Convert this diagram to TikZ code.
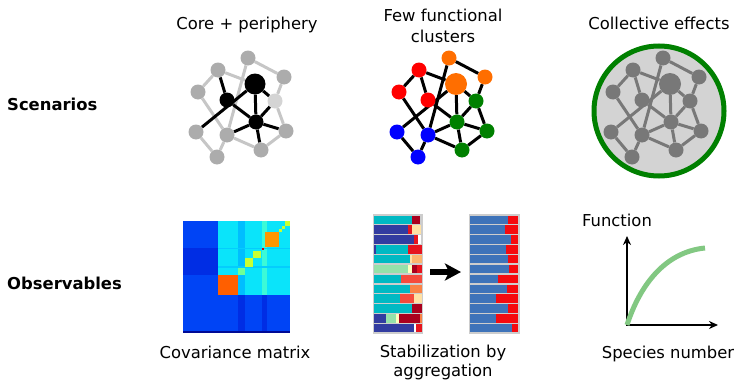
\documentclass[tikz,border=0pt]{standalone}
\usepackage{fontspec}
\setmainfont{DejaVu Sans}
\usetikzlibrary{arrows.meta,backgrounds}

\definecolor{periph}{RGB}{172,172,172}
\definecolor{fringe}{RGB}{212,212,212}
\definecolor{lightedge}{RGB}{198,198,198}
\definecolor{clorange}{RGB}{255,110,0}
\definecolor{clred}{RGB}{255,0,0}
\definecolor{clgreen}{RGB}{0,128,0}
\definecolor{clblue}{RGB}{0,0,255}
\definecolor{collgray}{RGB}{120,120,120}
\definecolor{collfill}{RGB}{211,211,211}
\definecolor{mblue}{RGB}{0,68,245}
\definecolor{mdeep}{RGB}{0,45,228}
\definecolor{mnavy}{RGB}{0,10,150}
\definecolor{mcyan}{RGB}{10,228,250}
\definecolor{mpale}{RGB}{0,190,255}
\definecolor{maqua}{RGB}{60,250,215}
\definecolor{mlime}{RGB}{200,255,50}
\definecolor{mmint}{RGB}{110,255,150}
\definecolor{mred}{RGB}{220,0,0}
\definecolor{morange}{RGB}{255,95,0}
\definecolor{mamber}{RGB}{255,150,0}
\definecolor{barframe}{RGB}{205,205,205}
\definecolor{barteal}{RGB}{0,185,195}
\definecolor{barnavy}{RGB}{50,60,160}
\definecolor{bardred}{RGB}{170,0,30}
\definecolor{barred}{RGB}{230,20,30}
\definecolor{barpeach}{RGB}{255,225,165}
\definecolor{barorange}{RGB}{253,180,110}
\definecolor{barmint}{RGB}{150,225,170}
\definecolor{barcream}{RGB}{255,255,190}
\definecolor{bartomato}{RGB}{245,75,60}
\definecolor{barsalmon}{RGB}{250,130,70}
\definecolor{barsteel}{RGB}{62,115,185}
\definecolor{barflame}{RGB}{245,10,15}
\definecolor{curvegreen}{RGB}{130,200,130}

\begin{document}
\begin{tikzpicture}[x=1pt,y=-1pt]
	\tikzset{every node/.style={font=\fontsize{16.4}{20}\selectfont}}
	\tikzset{caption/.style={inner sep=0pt,anchor=base,align=center}}
	\tikzset{rowtitle/.style={inner sep=0pt,anchor=base west,font=\fontsize{16.4}{20}\selectfont\bfseries}}
	\tikzset{dot/.style={circle,inner sep=0pt,minimum size=15pt}}
	\tikzset{link/.style={line width=3pt}}
	\tikzset{axis/.style={line width=2pt,{Stealth[length=9pt,width=8pt]}-{Stealth[length=9pt,width=8pt]}}}
	\tikzset{bigarrow/.style={line width=6pt,-{Stealth[length=16pt,width=17pt,inset=4pt]}}}

	\useasboundingbox (0,0) rectangle (737,380);

	\node[rowtitle] (scen) at (7,110) {Scenarios};
	\node[rowtitle] (obs) at (7,289) {Observables};

	\node[caption] (coretitle) at (247,29) {Core + periphery};
	\node[caption] (clustitle) at (443,42) {Few functional\\[1pt]clusters};
	\node[caption] (colltitle) at (659,29) {Collective effects};

	% core + periphery
	\begin{scope}[xshift=-201pt]
	\foreach \n/\x/\y/\d/\c in {A/449/58/15/periph,B/419/70/15/periph,C/485/77/15/periph,
		D/399/92/15/periph,E/456/84/21/black,F/428/100/15/black,G/476/101/15/fringe,
		H/457/122/15/black,I/397/132/15/periph,J/428/135/15/periph,K/487/131/15/periph,
		L/462/150/15/periph,M/418/157/15/periph}
		\node[dot,minimum size=\d pt,fill=\c] (p\n) at (\x,\y) {};
	\end{scope}
	\begin{scope}[on background layer]
	\foreach \a/\b in {A/C,A/J,B/D,B/E,D/J,C/G,G/K,J/L,K/L,I/M,J/M}
		\draw[link,lightedge] (p\a) -- (p\b);
	\foreach \a/\b in {B/F,I/E,F/H,E/H,E/G,G/H,H/J,H/K,H/L}
		\draw[link,black] (p\a) -- (p\b);
	\end{scope}

	% few functional clusters
	\foreach \n/\x/\y/\d/\c in {A/449/58/15/clorange,B/419/70/15/clred,C/485/77/15/clorange,
		D/399/92/15/clred,E/456/84/22/clorange,F/428/100/15/clred,G/476/101/15/clgreen,
		H/457/122/15/clgreen,I/397/132/15/clblue,J/428/135/15/clblue,K/487/131/15/clgreen,
		L/462/150/15/clgreen,M/418/157/15/clblue}
		\node[dot,minimum size=\d pt,fill=\c] (f\n) at (\x,\y) {};
	\begin{scope}[on background layer]
	\foreach \a/\b in {A/C,A/J,B/D,B/F,B/E,D/J,I/E,F/H,E/H,E/G,C/G,G/H,G/K,H/J,H/K,H/L,J/L,K/L,I/M,J/M}
		\draw[link,black] (f\a) -- (f\b);
	\end{scope}

	% collective effects
	\begin{scope}[xshift=214pt]
	\foreach \n/\x/\y/\d in {A/449/58/15,B/419/70/15,C/485/77/15,D/399/92/15,E/456/84/22,
		F/428/100/15,G/476/101/15,H/457/122/15,I/397/132/15,J/428/135/15,K/487/131/15,
		L/462/150/15,M/418/157/15}
		\node[dot,minimum size=\d pt,fill=collgray] (c\n) at (\x,\y) {};
	\end{scope}
	\begin{scope}[on background layer]
	\node[circle,draw=clgreen,fill=collfill,line width=5pt,minimum size=130pt] (pool) at (659,111) {};
	\foreach \a/\b in {A/C,A/J,B/D,B/F,B/E,D/J,I/E,F/H,E/H,E/G,C/G,G/H,G/K,H/J,H/K,H/L,J/L,K/L,I/M,J/M}
		\draw[link,collgray] (c\a) -- (c\b);
	\end{scope}

	% covariance matrix
	\fill[mblue] (183,221) rectangle (290,333);
	\fill[mdeep] (183,248) rectangle (218,275);
	\fill[mcyan] (218,221) rectangle (290,295);
	\fill[mpale] (238,221) rectangle (245,295);
	\fill[maqua] (262,221) rectangle (267,295);
	\fill[mpale!60!mcyan] (218,247.5) rectangle (290,249);
	\fill[mpale!60!mcyan] (218,266) rectangle (290,268);
	\fill[mdeep] (238,295) rectangle (245,331);
	\fill[mdeep] (262,295) rectangle (267,331);
	\fill[morange] (218.3,275) rectangle (238.3,295);
	\fill[mmint] (238.3,268.3) rectangle (245,275);
	\fill[mlime] (245,258.3) rectangle (253.3,266.7);
	\fill[mlime] (253.3,251) rectangle (260.7,257.7);
	\fill[mred] (261.7,247.7) rectangle (264.3,250.3);
	\fill[mamber] (265,231.7) rectangle (279.3,246.7);
	\fill[mlime] (279.3,229) rectangle (282,231.7);
	\fill[mlime] (282,226) rectangle (285,229);
	\fill[mlime] (285,221) rectangle (290,226);
	\fill[mnavy] (183,331) rectangle (290,333.3);
	\node[caption] (covlabel) at (235,358) {Covariance matrix};

	% stabilization by aggregation
	\fill[barframe] (373,214) rectangle (423,334);
	\foreach \i/\segs in {0/{barteal/411.7,bardred/420},
		1/{barnavy/408.3,barred/411.7,barpeach/421},
		2/{barnavy/414.3,barred/417.7,white/421},
		3/{barnavy/375.7,barteal/408.3,barred/422.3},
		4/{barteal/410,barpeach/411.7,barorange/422.3},
		5/{barmint/408.3,barcream/411.7,bardred/416.7,barred/422.3},
		6/{barteal/401,bartomato/422.3},
		7/{barteal/410,barsalmon/422.3},
		8/{barteal/400,bartomato/414.3,barpeach/422.3},
		9/{barteal/411.7,bardred/422.3},
		10/{barnavy/385.7,barmint/395.7,barcream/399,bardred/420,barsalmon/422.3},
		11/{barnavy/414.3,white/415.7,barred/422.3}}
		\foreach \c/\e [remember=\e as \s (initially 374)] in \segs
			\fill[\c] (\s,{215.6+\i*9.86}) rectangle (\e,{215.6+\i*9.86+8.4});
	\fill[barframe] (469,214) rectangle (520,334);
	\foreach \i/\w in {0/508.3,1/505,2/510.7,3/505.7,4/508.3,5/509,6/497.7,7/506.7,
		8/496,9/508.3,10/495.7,11/512.3} {
		\fill[barsteel] (470,{215.6+\i*9.86}) rectangle (\w,{215.6+\i*9.86+8.4});
		\fill[barflame] (\w,{215.6+\i*9.86}) rectangle (517.7,{215.6+\i*9.86+8.4});
	}
	\coordinate (mixed) at (430,272);
	\coordinate (sorted) at (461,272);
	\draw[bigarrow] (mixed) -- (sorted);
	\node[caption] (stablabel) at (443,376) {Stabilization by\\[-1pt]aggregation};

	% function vs species number
	\coordinate (origin) at (627,325);
	\coordinate (yend) at (627,236);
	\coordinate (xend) at (718,325);
	\draw[axis] (yend) -- (origin) -- (xend);
	\draw[line width=5pt,curvegreen] (origin) .. controls (640,285) and (665,252) .. (705,248);
	\node[caption] (funclabel) at (617,226) {Function};
	\node[caption] (speclabel) at (668,358) {Species number};

\end{tikzpicture}
\end{document}
